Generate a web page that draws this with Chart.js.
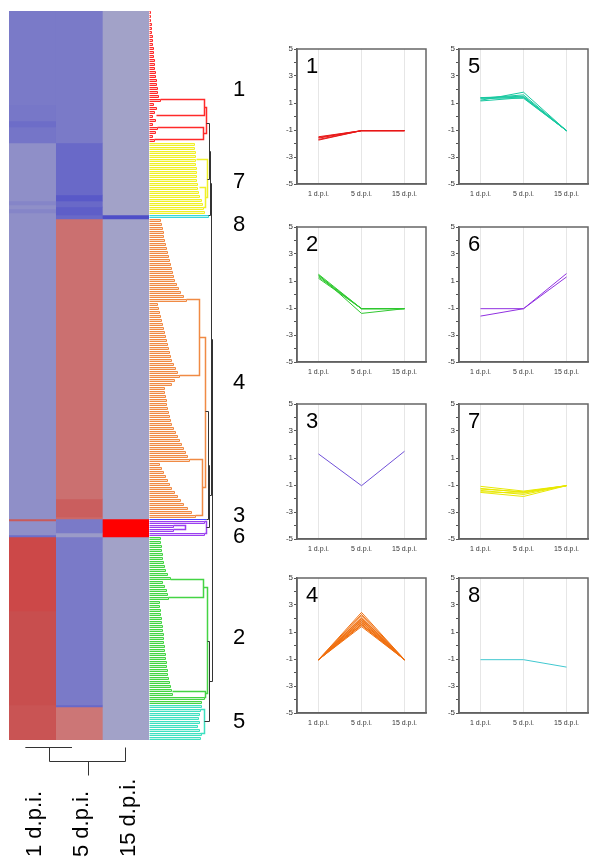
<!DOCTYPE html>
<html>
<head>
<meta charset="utf-8">
<script src="https://cdn.jsdelivr.net/npm/chart.js@4.4.1/dist/chart.umd.min.js"></script>
<style>
  body { margin: 0; background: #fff; width: 600px; height: 865px; position: relative; overflow: hidden; }
  canvas { position: absolute; }
</style>
</head>
<body>
<canvas id="heat" width="150" height="865" style="left:0;top:0"></canvas>
<canvas id="tree" width="120" height="865" style="left:149px;top:0"></canvas>
<script>
const timepoints = ['1 d.p.i.', '5 d.p.i.', '15 d.p.i.'];

// heatmap blocks per column: [first row, end row, log ratio]
const heat1dpi = [[0,47,-0.43],[47,55,-0.46],[55,58,-0.55],[58,66,-0.48],[66,95,-0.22],[95,97,-0.32],[97,99,-0.22],[99,101,-0.32],
  [101,254,-0.22],[254,255,0.44],[255,262,-0.22],[262,263,-0.55],[263,300,0.54],[300,347,0.5],[347,365,0.47]];
const heat5dpi = [[0,66,-0.43],[66,92,-0.59],[92,95,-0.75],[95,98,-0.59],[98,102,-0.7],[102,104,-0.59],[104,244,0.33],
  [244,253,0.42],[253,254,0.36],[254,261,-0.43],[261,263,-0.1],[263,347,-0.43],[347,348,-0.6],[348,365,0.3]];
const heat15dpi = [[0,102,-0.03],[102,104,-0.86],[104,254,-0.03],[254,263,1.0],[263,365,-0.03]];

// gene clusters, top to bottom as in the dendrogram
const clusterNames = ['1', '7', '8', '4', '3', '6', '2', '5'];
const clusterFirstRow = [0, 66, 102, 104, 254, 255, 263, 347];
const clusterRowCount = [66, 36, 2, 150, 1, 8, 84, 18];
const clusterLabelRow = [39.5, 85.5, 107, 186, 252.5, 263, 313.5, 355.5];

// dendrogram leaf heights, one per pair of rows
const leaves1 = [1,1,1,2,2,2,3,3,3,4,4,4,5,5,5,6,6,7,7,8,8,9,11, 4,7,5,3,6, 3,8,6,3,5];
const leaves7 = [45,45,46,46,46,46,47,47,47,47,48,48,49,50,52,53,54,55];
const leaves8 = [59];
const leaves4 = [11,12,13,14,14,15,16,17,18,19,20,21,22,23,24,25,27,29,31,34,37,
  8,9,10,11,12,13,14,15,16,17,18,19,20,21,22,24,26,28,30,25,22,
  15,15,16,17,17,18,19,20,21,22,24,26,28,30,32,34,36,38,40,
  10,12,14,16,18,20,22,25,28,31,34,38,42,46];
const leaves3 = [57];
const leaves6 = [55,24,24,55];
const leaves2 = [11,11,12,12,13,13,14,15,16,18,21, 13,15,17,18,19,
  10,10,11,11,12,12,13,13,14,14,14,15,15,16,16,17,17,18,18,19,20,21,22,23,55,52];
const leaves5 = [52,51,50,49,50,48,50,52,51];

// merges inside clusters: [row a, height a, row b, height b, merge height]
const joins1 = [[44,11,52,7,55],[58,8,64,5,54],[48,55,61,54,57]];
const joins7 = [[88,50,98,54,56],[74,47,93,56,58]];
const joins4 = [[144,37,182,30,50],[224,40,252,46,53],[163,50,238,53,56]];
const joins6 = [[257,24,259,24,36],[255,55,261,55,57]];
const joins2 = [[284,21,293,19,54],[340,23,343,55,56],[288,54,341,56,58]];
const joins5 = [[349,51,361,51,55]];
const rootJoins = [[56,57,84,58,60],[70,60,102,59,61],[200,56,254,57,59],[227,59,258,57,60],
  [315,58,355,55,60],[86,61,242,60,62],[164,62,335,60,63]];

// expression profiles per cluster (1, 5, 15 d.p.i.)
const profiles1 = [[-1.5,-1.05,-1.05],[-1.6,-1.05,-1.05],[-1.7,-1.05,-1.05],[-1.75,-1.05,-1.05],[-1.55,-1.05,-1.05]];
const profiles2 = [[1.5,-1.05,-1.05],[1.4,-1.05,-1.05],[1.3,-1.05,-1.05],[1.2,-1.05,-1.05],[1.45,-1.4,-1.05]];
const profiles3 = [[1.3,-1.05,1.5]];
const profiles4 = [[-1.05,1.4,-1.05],[-1.05,1.5,-1.05],[-1.05,1.55,-1.05],[-1.05,1.7,-1.05],[-1.05,1.75,-1.05],
  [-1.05,1.9,-1.05],[-1.05,2.0,-1.05],[-1.05,2.05,-1.05],[-1.05,2.2,-1.05],[-1.05,2.3,-1.05],[-1.05,2.45,-1.05],
  [-1.05,1.6,-1.05],[-1.05,1.85,-1.05]];
const profiles5 = [[1.4,1.35,-1.05],[1.3,1.45,-1.05],[1.2,1.8,-1.05],[1.35,1.6,-1.05],[1.15,1.4,-1.05],[1.4,1.5,-1.05]];
const profiles6 = [[-1.05,-1.05,1.3],[-1.6,-1.05,1.55]];
const profiles7 = [[-1.1,-1.45,-1.05],[-1.25,-1.55,-1.05],[-1.4,-1.7,-1.05],[-1.55,-1.85,-1.05],[-1.3,-1.5,-1.05],[-1.5,-1.6,-1.05]];
const profiles8 = [[-1.05,-1.05,-1.6]];

const FONT = '"Liberation Sans", Arial, sans-serif';
const clusterColours = ['#ff2a2a', '#f0f028', '#38d8dc', '#f08a44', '#4a4aff', '#9a40f0', '#44d444', '#3ee0c0'];
const panelColours = { '1': '#e81818', '2': '#30c830', '3': '#7050d8', '4': '#f07010',
  '5': '#18c8a0', '6': '#9030e0', '7': '#e8e800', '8': '#40c8d0' };
const profiles = { '1': profiles1, '2': profiles2, '3': profiles3, '4': profiles4,
  '5': profiles5, '6': profiles6, '7': profiles7, '8': profiles8 };

function mix(a, b, t) {
  return 'rgb(' + a.map((v, i) => Math.round(v + (b[i] - v) * t)).join(',') + ')';
}
function heatColour(v) {
  const grey = [165,165,200], blue = [64,64,200], salmon = [204,118,118], red1 = [200,78,78], red = [255,0,0];
  if (v < 0) return mix(grey, blue, -v);
  if (v < 0.3) return mix(grey, salmon, v / 0.3);
  if (v < 0.5) return mix(salmon, red1, (v - 0.3) / 0.2);
  return mix(red1, red, (v - 0.5) / 0.5);
}

// heatmap
const heatDatasets = [];
[heat1dpi, heat5dpi, heat15dpi].forEach((blocks, col) => {
  blocks.forEach(([a, b, v]) => {
    const data = [null, null, null];
    data[col] = [a, b];
    heatDatasets.push({ data, backgroundColor: heatColour(v), borderWidth: 0, grouped: false,
      barPercentage: 1, categoryPercentage: 1 });
  });
});

const columnTree = {
  id: 'columnTree',
  afterDraw(chart) {
    const { ctx, chartArea } = chart;
    const x = chart.scales.x;
    const cx = i => x.getPixelForValue(i);
    const y0 = chartArea.bottom + 7.5, y1 = y0 + 14, y2 = y1 + 14;
    const m01 = Math.round((cx(0) + cx(1)) / 2 - 7) + 0.5;
    const c2 = Math.round(cx(2) - 1) + 0.5;
    const stem = Math.round((m01 + c2) / 2) + 0.5;
    ctx.save();
    ctx.strokeStyle = '#333';
    ctx.lineWidth = 1;
    ctx.beginPath();
    ctx.moveTo(cx(0) - 7, y0); ctx.lineTo(cx(1) - 7, y0);
    ctx.moveTo(m01, y0); ctx.lineTo(m01, y1); ctx.lineTo(c2, y1); ctx.lineTo(c2, y0);
    ctx.moveTo(stem, y1); ctx.lineTo(stem, y2);
    ctx.stroke();
    ctx.fillStyle = '#000';
    ctx.font = '22px ' + FONT;
    ctx.textAlign = 'left';
    ctx.textBaseline = 'alphabetic';
    timepoints.forEach((t, i) => {
      ctx.save();
      ctx.translate(cx(i) + 9, 857);
      ctx.rotate(-Math.PI / 2);
      ctx.fillText(t, 0, 0);
      ctx.restore();
    });
    ctx.restore();
  }
};

new Chart(document.getElementById('heat'), {
  type: 'bar',
  data: { labels: timepoints, datasets: heatDatasets },
  options: {
    responsive: false, animation: false,
    layout: { padding: { left: 9, right: 1, top: 11, bottom: 125 } },
    scales: {
      x: { display: false },
      y: { display: false, reverse: true, min: 0, max: 364.5 }
    },
    plugins: { legend: { display: false }, tooltip: { enabled: false } }
  },
  plugins: [columnTree]
});

// row dendrogram: brackets in (height, row) units, drawn through the chart's scales
const treePaths = [];
function bracket(a, ha, b, hb, h, colour, tint, width) {
  treePaths.push({ pts: [[ha, a], [h, a], [h, b], [hb, b]], colour, tint, width: width || 1 });
}
function leaf(row, h, colour) {
  treePaths.push({ pts: [[0, row], [h, row]], colour, width: 1 });
}
const clusterLeaves = [leaves1, leaves7, leaves8, leaves4, leaves3, leaves6, leaves2, leaves5];
const clusterJoins = [joins1, joins7, [], joins4, [], joins6, joins2, joins5];
clusterLeaves.forEach((heights, c) => {
  const first = clusterFirstRow[c], end = first + clusterRowCount[c];
  heights.forEach((h, p) => {
    const a = first + 2 * p + 0.25, b = a + 1;
    if (b < end) bracket(a, 0, b, 0, h, clusterColours[c], true);
    else leaf(a, h, clusterColours[c]);
  });
  clusterJoins[c].forEach(([a, ha, b, hb, h]) => bracket(a + 0.25, ha, b + 0.25, hb, h, clusterColours[c], false, 1.5));
});
rootJoins.forEach(([a, ha, b, hb, h]) => bracket(a + 0.25, ha, b + 0.25, hb, h, '#333'));

const treeDraw = {
  id: 'treeDraw',
  afterDatasetsDraw(chart) {
    const { ctx, scales } = chart;
    const X = v => scales.x.getPixelForValue(v), Y = v => scales.y.getPixelForValue(v);
    ctx.save();
    treePaths.forEach(p => {
      if (p.tint) {
        const [[x0, r0], , [x1, r1]] = p.pts;
        ctx.globalAlpha = 0.3;
        ctx.fillStyle = p.colour;
        ctx.fillRect(X(x0), Y(r0), X(x1) - X(x0), Y(r1) - Y(r0));
        ctx.globalAlpha = 1;
      }
      ctx.lineWidth = p.width;
      ctx.strokeStyle = p.colour;
      ctx.beginPath();
      p.pts.forEach(([h, r], i) => {
        if (i === 0) ctx.moveTo(X(h), Y(r)); else ctx.lineTo(X(h), Y(r));
      });
      ctx.stroke();
    });
    ctx.fillStyle = '#000';
    ctx.font = '22px ' + FONT;
    ctx.textAlign = 'center';
    ctx.textBaseline = 'middle';
    clusterNames.forEach((n, i) => ctx.fillText(n, X(89.5), Y(clusterLabelRow[i])));
    ctx.restore();
  }
};

new Chart(document.getElementById('tree'), {
  type: 'scatter',
  data: { datasets: [] },
  options: {
    responsive: false, animation: false,
    layout: { padding: { left: 0, right: 0, top: 11, bottom: 125 } },
    scales: {
      x: { display: false, min: -0.5, max: 119.5 },
      y: { display: false, reverse: true, min: 0, max: 364.5 }
    },
    plugins: { legend: { display: false }, tooltip: { enabled: false } }
  },
  plugins: [treeDraw]
});

// cluster profile panels
const panelDecor = {
  id: 'panelDecor',
  afterDraw(chart, args, opts) {
    const { ctx, chartArea: a } = chart;
    ctx.save();
    ctx.strokeStyle = '#666';
    ctx.lineWidth = 1.5;
    ctx.strokeRect(a.left, a.top, a.right - a.left, a.bottom - a.top);
    ctx.fillStyle = '#000';
    ctx.font = '22px ' + FONT;
    ctx.textBaseline = 'top';
    ctx.textAlign = 'left';
    ctx.fillText(opts.label, a.left + 9, a.top + 7);
    ctx.restore();
  }
};

const panelLayout = [
  ['1', 268, 41], ['5', 430, 41],
  ['2', 268, 219], ['6', 430, 219],
  ['3', 268, 396], ['7', 430, 396],
  ['4', 268, 570], ['8', 430, 570]
];

panelLayout.forEach(([name, left, top]) => {
  const cv = document.createElement('canvas');
  cv.width = 165; cv.height = 161;
  cv.style.left = left + 'px';
  cv.style.top = top + 'px';
  document.body.appendChild(cv);
  new Chart(cv, {
    type: 'line',
    data: {
      labels: timepoints,
      datasets: profiles[name].map(p => ({
        data: p, borderColor: panelColours[name], borderWidth: 1, pointRadius: 0, tension: 0, fill: false
      }))
    },
    options: {
      responsive: false, animation: false,
      layout: { padding: { left: 0, right: 7, top: 8, bottom: 0 } },
      scales: {
        x: {
          offset: true,
          grid: { color: '#e6e6e6', drawTicks: false, offset: false },
          border: { color: '#555', width: 1.5 },
          ticks: { font: { size: 7, family: FONT }, color: '#333', padding: 6, maxRotation: 0, autoSkip: false },
          afterFit: s => { s.height = 18; }
        },
        y: {
          min: -5, max: 5,
          grid: { drawOnChartArea: false, drawTicks: true, tickLength: 3, color: '#555' },
          border: { color: '#555', width: 1.5 },
          ticks: { stepSize: 1, font: { size: 8, family: FONT }, color: '#333', padding: 1,
            callback: v => (v % 2 !== 0 ? v : '') },
          afterFit: s => { s.width = 29; }
        }
      },
      plugins: { legend: { display: false }, tooltip: { enabled: false }, panelDecor: { label: name } }
    },
    plugins: [panelDecor]
  });
});
</script>
</body>
</html>
